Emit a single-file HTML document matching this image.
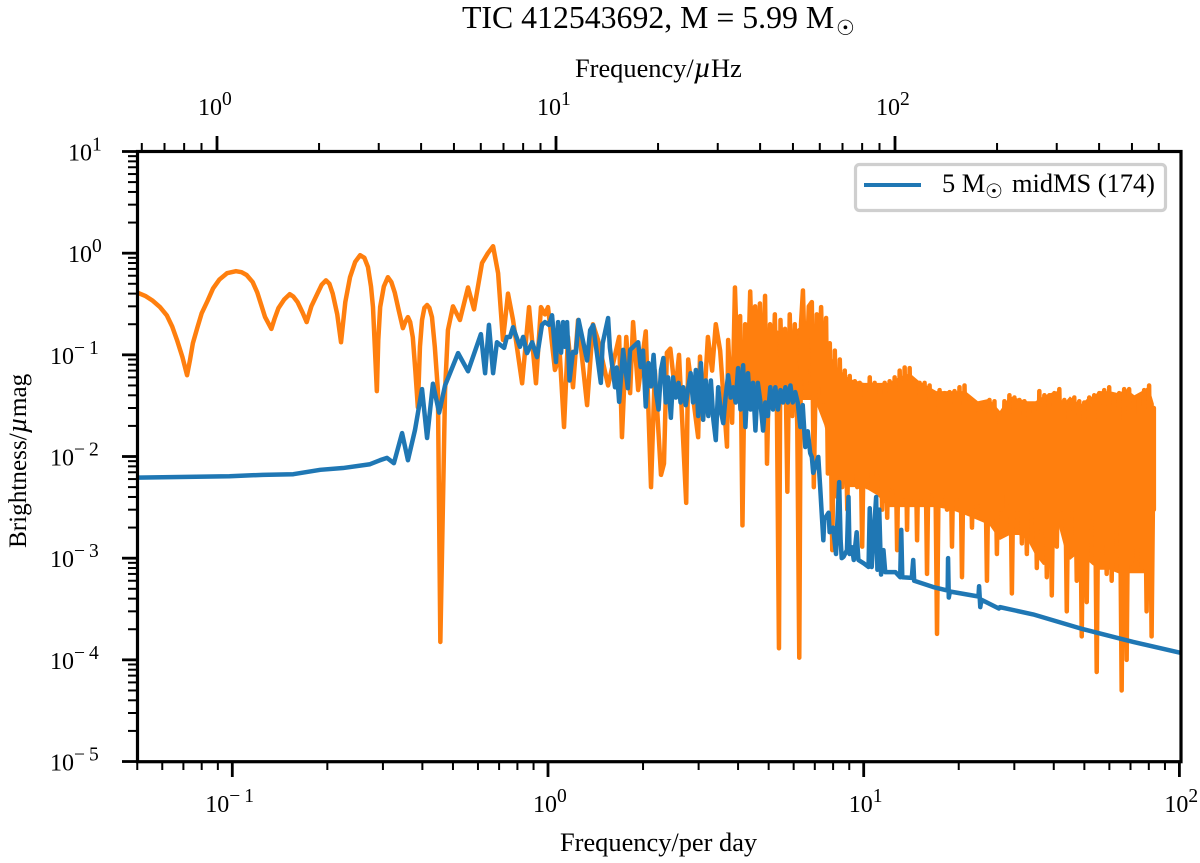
<!DOCTYPE html>
<html lang="en">
<head>
<meta charset="utf-8">
<title>TIC 412543692</title>
<style>
html,body{margin:0;padding:0;background:#fff;}
svg{display:block;}
text{font-family:"Liberation Serif","DejaVu Serif",serif;fill:#000;}
.sun{font-family:"DejaVu Sans",sans-serif;}
</style>
</head>
<body>
<svg id="chart" xmlns="http://www.w3.org/2000/svg" width="1200" height="863" viewBox="0 0 1200 863">
  <defs><clipPath id="plot-clip"><rect x="137" y="151" width="1044" height="611"/></clipPath></defs>
  <rect x="0" y="0" width="1200" height="863" fill="#fff"/>
  <text x="462" y="28" font-size="31.8">TIC 412543692, M = 5.99 M<tspan class="sun" x="836" y="35" font-size="21">☉</tspan></text>
  <text x="575" y="77" font-size="26.4">Frequency/<tspan font-style="italic" font-size="30">µ</tspan>Hz</text>
  <text x="560" y="851" font-size="26.4">Frequency/per day</text>
  <text transform="translate(26,548) rotate(-90)" font-size="25.2">Brightness/<tspan font-style="italic" font-size="28">µ</tspan>mag</text>
  <g id="series" clip-path="url(#plot-clip)"></g>
  <g id="ticks"></g>
  <rect x="137.5" y="151.5" width="1043.5" height="610.2" fill="none" stroke="#000" stroke-width="3.2"/>
  <g>
    <rect x="855.5" y="164.5" width="310" height="46" rx="4" fill="#fff" stroke="#cfcfcf" stroke-width="3.2"/>
    <line x1="864" y1="185" x2="921" y2="185" stroke="#1f77b4" stroke-width="4"/>
    <text y="192" font-size="26.4"><tspan x="942">5 M</tspan><tspan class="sun" x="985" y="198" font-size="20">☉</tspan><tspan x="1012" y="192">midMS (174)</tspan></text>
  </g>
</svg>
<script>
const orangeLowFreq = [.05,.053,.056,.059,.062,.0645,.0668,.0695,.0719,.0735,.075,.0775,.08,.0835,.0869,.091,.0962,.1027,.107,.111,.116,.12,.1235,.127,.133,.136,.14,.146,.152,.156,.161,.167,.172,.178,.186,.192,.198,.203,.208,.215,.221,.228,.236,.245,.254,.262,.269,.275,.279,.284,.287,.29,.294,.302,.311,.319,.327,.337,.347,.353,.36,.366,.373,.38,.387,.393,.399,.406,.414,.421,.429,.438,.448,.456,.472,.482,.5,.526,.558,.583,.618,.645,.67,.695,.72,.747,.775,.828,.871,.916,.95,.978,1.0];
const orangeLowAmp = [.41,.38,.34,.295,.245,.19,.14,.095,.063,.09,.13,.185,.257,.34,.45,.55,.635,.665,.65,.61,.52,.41,.31,.235,.18,.225,.288,.35,.395,.375,.33,.26,.21,.3,.40,.49,.54,.5,.40,.25,.133,.33,.58,.82,.955,.9,.73,.47,.295,.09,.044,.14,.295,.47,.58,.52,.41,.27,.183,.21,.235,.21,.149,.07,.0305,.12,.22,.29,.309,.29,.235,.12,.0446,1.5e-4,.0446,.175,.30,.22,.46,.28,.80,1.0,1.17,.635,.14,.40,.22,.0525,.295,.0525,.295,.25,.295];
const orangeMidFreq = [1.052,1.09,1.124,1.157,1.2,1.245,1.33,1.388,1.44,1.55,1.68,1.715,1.77,1.82,1.86,1.93,2.04,2.12,2.18,2.28,2.33,2.38,2.44,2.53,2.6,2.74,2.78,2.99,3.03,3.1,3.21,3.31,3.4,3.51,3.69,3.72,3.83];
const orangeMidAmp = [.071,.1,.0195,.15,.048,.22,.032,.2,.14,.05,.15,.0155,.15,.042,.21,.045,.17,.005,.07,.0066,.0085,.105,.115,.042,.1,.0035,.09,.0155,.096,.023,.15,.07,.2,.11,.0125,.14,.0215];
const orangeBurstFreq = [3.91,3.98,4.06,4.13,4.21,4.29,4.37,4.45,4.53,4.61,4.69,4.78,4.87,4.94,5.05,5.14,5.23,5.31,5.39,5.45,5.53,5.63,5.73,5.83,5.94,6.05,6.16,6.25,6.33,6.42,6.55,6.7,6.85,6.95,7.1,7.2,7.33,7.45,7.6,7.7];
const orangeBurstAmp = [.46,.08,.24,.0021,.2,.05,.42,.06,.3,.04,.32,.03,.38,.0085,.2,.035,.25,.03,1.3e-4,.22,.04,.18,.0045,.25,.025,.2,.02,1.05e-4,.2,.43,.04,.3,.33,.005,.25,.05,.295,.035,.23,.0068];
const orangeHighFreq = [7.81,7.95,8.1,8.25,8.4,8.55,8.71,8.87,9.03,9.2,9.37,9.54,9.71,9.89,10.07,10.26,10.45,10.64,10.83,11.03,11.24,11.44,11.65,11.87,12.08,12.3,12.53,12.76,13.0,13.23,13.48,13.72,13.98,14.23,14.49,14.76,15.03,15.31,15.59,15.87,16.17,16.46,16.77,17.07,17.39,17.71,18.03,18.36,18.7,19.04,19.39,19.75,20.11,20.48,20.86,21.24,21.63,22.03,22.43,22.84,23.26,23.69,24.13,24.57,25.02,25.48,25.95,26.42,26.91,27.4,27.91,28.42,28.94,29.47,30.01,30.56,31.12,31.7,32.28,32.87,33.48,34.09,34.72,35.35,36.0,36.66,37.34,38.02,38.72,39.43,40.16,40.9,41.65,42.41,43.19,43.98,44.79,45.61,46.45,47.3,48.17,49.05,49.95,50.87,51.8,52.75,53.72,54.71,55.72,56.74,57.78,58.84,59.92,61.02,62.14,63.28,64.45,65.63,66.84,68.06,69.31,70.59,71.88,73.2,74.55,75.92,77.31,78.73,80.18,81.65,83.0,83.0];
const orangeHighAmp = [.13,.0012,.11,.004,.09,.005,.07,.003,.062,.006,.055,.005,.053,.0013,.05,.005,.06,.006,.053,.007,.05,.003,.053,.0025,.055,.005,.06,.0012,.07,.004,.075,.0019,.074,.004,.055,.0015,.053,.004,.053,.0007,.05,.0045,.042,1.8e-4,.045,.004,.042,.003,.043,.0013,.044,.004,.048,.00065,.05,.003,.036,.002,.034,.0035,.032,.0025,.033,.0006,.036,.003,.035,.0011,.025,.003,.035,.004,.04,.00045,.038,.003,.036,.0014,.035,.0011,.031,.003,.033,.0008,.044,.002,.04,.00065,.04,.00043,.042,.0013,.046,.003,.036,.0003,.032,.003,.038,.0006,.035,.00017,.034,.00037,.038,.0025,.04,.000076,.042,.0012,.045,.0007,.048,.0006,.036,.0025,.042,.00005,.046,.0001,.046,.0009,.036,.001,.038,.0008,.045,.0003,.05,.00017,.03,.003];

// Unresolved forest of samples: upper and lower limit of the solid orange mass.
const denseBandFreq = [3.9,4.3,4.8,5.3,5.8,6.4,7,7.5,8.1,9,10,11,12,13,14,15,17,19,21,23,25,27,29,31,33,35,37,39,41,43,45,47,49,51,53,56,60,64,68,72,76,80,83];
const denseBandUpper = [.111,.14,.157,.175,.157,.196,.196,.14,.079,.058,.053,.053,.053,.061,.066,.055,.044,.044,.044,.035,.037,.028,.039,.037,.035,.035,.039,.042,.044,.033,.039,.035,.033,.037,.039,.044,.044,.042,.046,.04,.044,.049,.033];
const denseBandLower = [.036,.0403,.036,.036,.0321,.036,.036,.0204,.00737,.005,.005,.00418,.00318,.00318,.00318,.00318,.00318,.00298,.00266,.00237,.00212,.00151,.00169,.00169,.00151,.00107,.00086,.00086,.00237,.00135,.00096,.00107,.00107,.00096,.00086,.00077,.00077,.00071,.00071,.00071,.00071,.00071,.00298];

const blueLowFreq = [.05,.098,.125,.156,.19,.224,.273,.294,.309,.325,.345,.36,.379,.399,.414,.432,.452,.472,.519,.558,.613,.632,.65,.67,.689,.726,.741,.758,.775,.815,.834,.858,.891,.923,.957,.978,1.007];
const blueLowAmp = [.0062,.0064,.0066,.0067,.0074,.0077,.0084,.0092,.0097,.0086,.017,.0092,.0182,.046,.0152,.052,.027,.05,.104,.069,.16,.066,.197,.066,.133,.117,.15,.15,.187,.12,.15,.104,.133,.095,.197,.21,.197];
const blueMidFreq = [1.03,1.06,1.076,1.10,1.116,1.13,1.149,1.17,1.2,1.226,1.25,1.33,1.36,1.39,1.47,1.49,1.55,1.57,1.63,1.65,1.68,1.73,1.79,1.82];
const blueMidAmp = [.245,.085,.21,.105,.21,.12,.21,.056,.107,.105,.22,.088,.175,.196,.053,.13,.23,.118,.048,.075,.0345,.112,.047,.112];
const blueBandFreq = [1.93,1.965,2.0,2.04,2.08,2.12,2.16,2.2,2.24,2.28,2.32,2.36,2.4,2.45,2.49,2.54,2.59,2.63,2.68,2.73,2.78,2.83,2.88,2.94,2.99,3.05,3.1,3.16,3.22,3.28,3.34,3.4,3.46,3.52,3.59,3.65,3.72,3.79,3.86,3.93,4.0,4.07,4.15,4.22,4.3,4.38,4.46,4.54,4.62,4.71,4.8,4.88,4.97,5.06,5.16,5.25,5.35,5.45,5.55,5.65,5.75,5.86,5.96,6.07,6.18,6.3,6.41,6.53,6.65,6.77,6.85];
const blueBandAmp = [.133,.076,.11,.031,.083,.049,.1,.042,.029,.071,.093,.034,.06,.024,.06,.038,.053,.034,.048,.032,.047,.066,.034,.071,.025,.083,.023,.056,.025,.056,.023,.0145,.048,.029,.0213,.038,.063,.038,.048,.034,.074,.029,.079,.0195,.066,.029,.053,.018,.053,.034,.018,.034,.025,.048,.029,.048,.029,.045,.034,.048,.034,.05,.034,.043,.034,.0195,.032,.0124,.0177,.0108,.0099];
const blueHighFreq = [6.92,7.18,7.28,7.36,7.45,7.5,7.74,7.8,7.95,8.0,8.17,8.36,8.45,8.52,8.63,8.85,8.95,9.02,9.18,9.3,9.5,9.62,10.0,10.36,10.45,10.6,10.95,11.05,11.2,11.35,11.55,11.7,12.1,12.6,13.05,13.15,13.25,14.2,14.35,14.45,16.6,18.45,18.5,18.6,18.75,23.1,23.2,23.4,23.6,26.8,27,34.4,49.6,71.4,100];
const blueHighAmp = [.0069,.0099,.005,.0028,.0015,.0024,.0028,.0018,.0019,.002,.0011,.0056,.0015,.001,.00103,.0012,.004,.0011,.00128,.00096,.0018,.00096,.00089,.00082,.0031,.00082,.004,.00077,.003,.00069,.0012,.00073,.00073,.00073,.00065,.0019,.00065,.00064,.00096,.0006,.00052,.00048,.001,.00041,.00047,.00042,.00053,.00033,.00039,.00032,.00033,.00028,.0002,.00015,.000118];

const xTickExponents = [-1,0,1,2];
const topTickExponents = [0,1,2];
const yTickExponents = [1,0,-1,-2,-3,-4,-5];
const minorMultipliers = [2,3,4,5,6,7,8,9];

const NS = 'http://www.w3.org/2000/svg';
function xScale(f){ return 548 + 315.7 * Math.log10(f); }
function topScale(f){ return 217 + 339 * Math.log10(f); }
function yScale(a){ return 151.5 + 101.67 * (1 - Math.log10(a)); }

function makeSeries(freq, amp, color, name){
  const n = Math.min(freq.length, amp.length);
  let pts = [];
  for (let i = 0; i < n; i++) pts.push(xScale(freq[i]).toFixed(2) + ',' + yScale(amp[i]).toFixed(2));
  const el = document.createElementNS(NS, 'polyline');
  
  
  el.setAttribute('points', pts.join(' '));
  el.setAttribute('fill', 'none');
  el.setAttribute('stroke', color);
  el.setAttribute('stroke-width', '4.5');
  el.setAttribute('stroke-linejoin', 'round');
  el.setAttribute('stroke-linecap', 'round');
  document.getElementById('series').appendChild(el);
}
function makeBand(){
  let pts = [];
  for (let i = 0; i < denseBandFreq.length; i++) pts.push(xScale(denseBandFreq[i]).toFixed(2) + ',' + yScale(denseBandUpper[i]).toFixed(2));
  for (let i = denseBandFreq.length - 1; i >= 0; i--) pts.push(xScale(denseBandFreq[i]).toFixed(2) + ',' + yScale(denseBandLower[i]).toFixed(2));
  const band = document.createElementNS(NS, 'polygon');
  
  
  band.setAttribute('points', pts.join(' '));
  band.setAttribute('fill', '#ff7f0e');
  document.getElementById('series').appendChild(band);
}
const orangeFreq = orangeLowFreq.concat(orangeMidFreq, orangeBurstFreq, orangeHighFreq);
const orangeAmp = orangeLowAmp.concat(orangeMidAmp, orangeBurstAmp, orangeHighAmp);
const blueFreq = blueLowFreq.concat(blueMidFreq, blueBandFreq, blueHighFreq);
const blueAmp = blueLowAmp.concat(blueMidAmp, blueBandAmp, blueHighAmp);
makeBand();
makeSeries(orangeFreq, orangeAmp, '#ff7f0e', 'observed-spectrum-line');
makeSeries(blueFreq, blueAmp, '#1f77b4', 'model-spectrum-line');

const tickGroup = document.getElementById('ticks');
function tickLine(x1, y1, x2, y2, w, name){
  const l = document.createElementNS(NS, 'line');
  
  
  l.setAttribute('x1', x1);
  l.setAttribute('y1', y1);
  l.setAttribute('x2', x2);
  l.setAttribute('y2', y2);
  l.setAttribute('stroke', '#000');
  l.setAttribute('stroke-width', w);
  tickGroup.appendChild(l);
}
function powerLabel(exp, x, y, name){
  const t = document.createElementNS(NS, 'text');
  
  
  t.setAttribute('y', y);
  t.setAttribute('font-size', '24');
  const base = document.createElementNS(NS, 'tspan');
  base.setAttribute('x', x);
  base.textContent = '10';
  t.appendChild(base);
  const sup = document.createElementNS(NS, 'tspan');
  sup.setAttribute('x', x + 24);
  sup.setAttribute('y', y - 10);
  sup.setAttribute('font-size', '19.5');
  if (exp < 0) sup.setAttribute('letter-spacing', '4');
  sup.textContent = (exp < 0 ? '\u2212' + (-exp) : String(exp));
  t.appendChild(sup);
  tickGroup.appendChild(t);
}
// bottom axis
for (const e of [-2,-1,0,1]) for (const m of minorMultipliers) {
  const v = m * Math.pow(10, e);
  if (v >= 0.05 && v < 100) tickLine(xScale(v), 761.7, xScale(v), 770, 2, 'bottom-minor-tick');
}
for (const e of xTickExponents) {
  const px = xScale(Math.pow(10, e));
  tickLine(px, 761.7, px, 777, 2.8, 'bottom-major-tick');
  powerLabel(e, px - (e < 0 ? 27 : 15), 812, 'bottom-tick-label');
}
// top axis
for (const e of [-1,0,1,2]) for (const m of minorMultipliers) {
  const v = m * Math.pow(10, e);
  if (v >= 0.58 && v <= 693) tickLine(topScale(v), 151.5, topScale(v), 143, 2, 'top-minor-tick');
}
for (const e of topTickExponents) {
  const px = topScale(Math.pow(10, e));
  tickLine(px, 151.5, px, 136, 2.8, 'top-major-tick');
  powerLabel(e, px - 19, 115, 'top-tick-label');
}
// left axis
for (const e of [0,-1,-2,-3,-4,-5]) for (const m of minorMultipliers) {
  const v = m * Math.pow(10, e);
  tickLine(137, yScale(v), 128, yScale(v), 2, 'left-minor-tick');
}
for (const e of yTickExponents) {
  const py = yScale(Math.pow(10, e));
  tickLine(122, py, 137, py, 2.8, 'left-major-tick');
  powerLabel(e, e < 0 ? 50 : 68, py + 9, 'left-tick-label');
}
</script>
</body>
</html>
